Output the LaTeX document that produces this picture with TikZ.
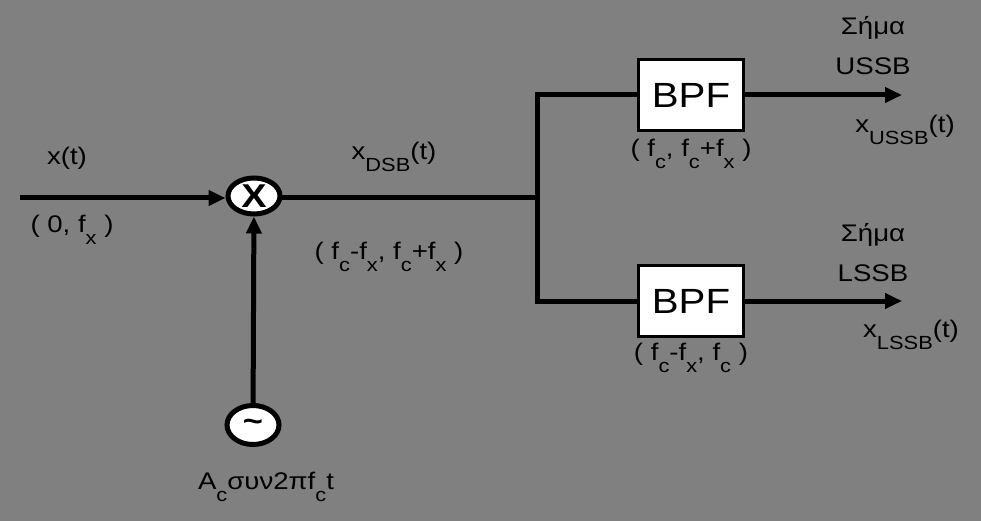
\documentclass[tikz,border=0pt]{standalone}
\usepackage{fontspec}
\setmainfont{Liberation Sans}[FakeStretch=1.15]
\usetikzlibrary{arrows.meta,shapes.geometric,positioning,calc}

\definecolor{bggray}{RGB}{128,128,128}
\newcommand{\lo}[1]{\raisebox{-0.9ex}{\fontsize{19}{19}\selectfont #1}}

\begin{document}
\begin{tikzpicture}[x=1pt, y=-1pt,
    wire/.style={line width=5pt, line cap=round},
    arr/.style={line width=5pt, -{Triangle[length=17pt, width=15pt]}},
    mixer/.style={draw, line width=5pt, ellipse, fill=white, minimum width=52pt, minimum height=36pt, inner sep=0pt},
    filt/.style={draw, line width=3pt, fill=white, minimum width=105pt, minimum height=71pt, font=\fontsize{35}{35}\selectfont},
    lbl/.style={font=\fontsize{24}{26}\selectfont, inner sep=0pt, align=center}
]
\fill[bggray] (0,0) rectangle (981,521);
\useasboundingbox (0,0) rectangle (981,521);

\node[mixer, font=\fontsize{33}{33}\selectfont\bfseries] (mix) at (254,196) {X};
\node[mixer, minimum height=39pt, font=\fontsize{30}{30}\selectfont\bfseries] (osc) at (253,425) {\raisebox{-0.3ex}{\char`~}};
\node[filt] (bpfu) at (691,95) {BPF};
\node[filt] (bpfl) at (691,301) {BPF};

\coordinate (in) at (20,198);
\coordinate (j) at (537,198);
\coordinate (jt) at (537,95);
\coordinate (jb) at (537,301);
\coordinate (outu) at (902,95);
\coordinate (outl) at (902,301);

\draw[arr] (in) -- (mix.west |- in);
\draw[arr] (osc) -- (mix);
\draw[wire] (mix.east |- j) -- (j);
\draw[wire, line cap=butt] (jt) -- (jb);
\draw[wire, line cap=butt] ([xshift=-2.5pt]jt) -- (bpfu);
\draw[wire, line cap=butt] ([xshift=-2.5pt]jb) -- (bpfl);
\draw[arr] (bpfu) -- (outu);
\draw[arr] (bpfl) -- (outl);

% labels
\node[lbl] (xt) at (67,158) {x(t)};
\node[lbl] (xtb) at (72,230) {( 0, f\lo{x} )};
\node[lbl] (xdsb) at (394,157) {x\lo{DSB}(t)};
\node[lbl] (xdsbb) at (389,257) {( f\lo{c}-f\lo{x}, f\lo{c}+f\lo{x} )};
\node[lbl] (acos) at (266,487) {A\lo{c}συν2πf\lo{c}t};
\node[lbl] (bwu) at (691,154) {( f\lo{c}, f\lo{c}+f\lo{x} )};
\node[lbl] (bwl) at (691,358) {( f\lo{c}-f\lo{x}, f\lo{c} )};
\node[lbl] (sigu) at (873,46) {Σήμα\\[14pt]USSB};
\node[lbl] (sigl) at (873,253) {Σήμα\\[14pt]LSSB};
\node[lbl] (xu) at (905,130) {x\lo{USSB}(t)};
\node[lbl] (xl) at (911,335) {x\lo{LSSB}(t)};
\end{tikzpicture}
\end{document}
